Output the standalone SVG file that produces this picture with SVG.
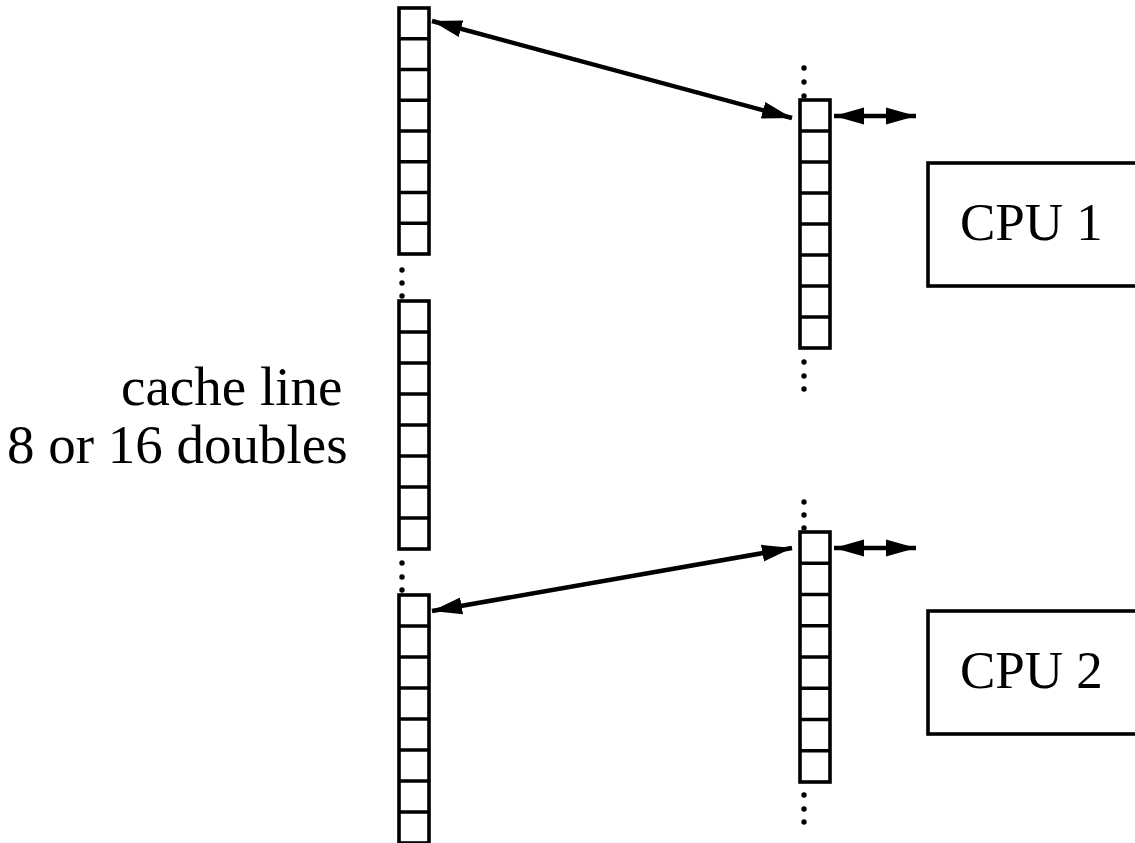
<svg xmlns="http://www.w3.org/2000/svg" width="1135" height="843" viewBox="0 0 1135 843">
<style>
.cell{fill:#fff;stroke:#000;stroke-width:3.6}
.dot{fill:#000}
.conn{stroke:#000;stroke-width:4.5;fill:none;marker-start:url(#ah);marker-end:url(#ah)}
.box{fill:#fff;stroke:#000;stroke-width:3.6}
.lbl{font-family:"Liberation Serif","Times New Roman",serif;font-size:53px;fill:#000}
.lbl2{font-family:"Liberation Serif","Times New Roman",serif;font-size:55px;fill:#000}
</style>
<defs>
<marker id="ah" markerUnits="userSpaceOnUse" markerWidth="32" markerHeight="20" refX="30" refY="10" orient="auto-start-reverse" viewBox="0 0 32 20">
<path d="M0,1.5 L30,10 L0,18.5 z" fill="#000"/>
</marker>
</defs>
<rect width="1135" height="843" fill="#fff"/>
<g id="mem-col-1">
<rect class="cell" x="399" y="8" width="30" height="246"/>
<path class="cell" d="M399,38.75H429M399,69.5H429M399,100.25H429M399,131H429M399,161.75H429M399,192.5H429M399,223.25H429"/>
</g>
<g id="mem-col-2">
<rect class="cell" x="399" y="301" width="30" height="248"/>
<path class="cell" d="M399,332H429M399,363H429M399,394H429M399,425H429M399,456H429M399,487H429M399,518H429"/>
</g>
<g id="mem-col-3">
<rect class="cell" x="399" y="595" width="30" height="248"/>
<path class="cell" d="M399,626H429M399,657H429M399,688H429M399,719H429M399,750H429M399,781H429M399,812H429"/>
</g>
<g id="cache-1">
<rect class="cell" x="800" y="100" width="30" height="248"/>
<path class="cell" d="M800,131H830M800,162H830M800,193H830M800,224H830M800,255H830M800,286H830M800,317H830"/>
</g>
<g id="cache-2">
<rect class="cell" x="800" y="532" width="30" height="250"/>
<path class="cell" d="M800,563.25H830M800,594.5H830M800,625.75H830M800,657H830M800,688.25H830M800,719.5H830M800,750.75H830"/>
</g>
<g id="dots">
<circle class="dot" cx="402" cy="270" r="2.7"/><circle class="dot" cx="402" cy="283" r="2.7"/><circle class="dot" cx="402" cy="296" r="2.7"/>
<circle class="dot" cx="402" cy="563" r="2.7"/><circle class="dot" cx="402" cy="577" r="2.7"/><circle class="dot" cx="402" cy="590" r="2.7"/>
<circle class="dot" cx="804" cy="68" r="2.7"/><circle class="dot" cx="804" cy="82" r="2.7"/><circle class="dot" cx="804" cy="96" r="2.7"/>
<circle class="dot" cx="804" cy="362" r="2.7"/><circle class="dot" cx="804" cy="376" r="2.7"/><circle class="dot" cx="804" cy="389" r="2.7"/>
<circle class="dot" cx="804" cy="502" r="2.7"/><circle class="dot" cx="804" cy="515" r="2.7"/><circle class="dot" cx="804" cy="528" r="2.7"/>
<circle class="dot" cx="804" cy="795" r="2.7"/><circle class="dot" cx="804" cy="809" r="2.7"/><circle class="dot" cx="804" cy="822" r="2.7"/>
</g>
<g id="cpu1">
<rect class="box" x="928" y="163" width="230" height="123"/>
<text class="lbl" x="960" y="240">CPU 1</text>
</g>
<g id="cpu2">
<rect class="box" x="928" y="611" width="230" height="123"/>
<text class="lbl" x="960" y="688">CPU 2</text>
</g>
<g id="label">
<text class="lbl2" x="121" y="405">cache line</text>
<text class="lbl2" x="7" y="463">8 or 16 doubles</text>
</g>
<g id="connectors">
<line class="conn" x1="432" y1="21" x2="792" y2="118"/>
<line class="conn" x1="834" y1="116" x2="916" y2="116"/>
<line class="conn" x1="432" y1="611" x2="792" y2="548"/>
<line class="conn" x1="834" y1="548" x2="916" y2="548"/>
</g>
</svg>
